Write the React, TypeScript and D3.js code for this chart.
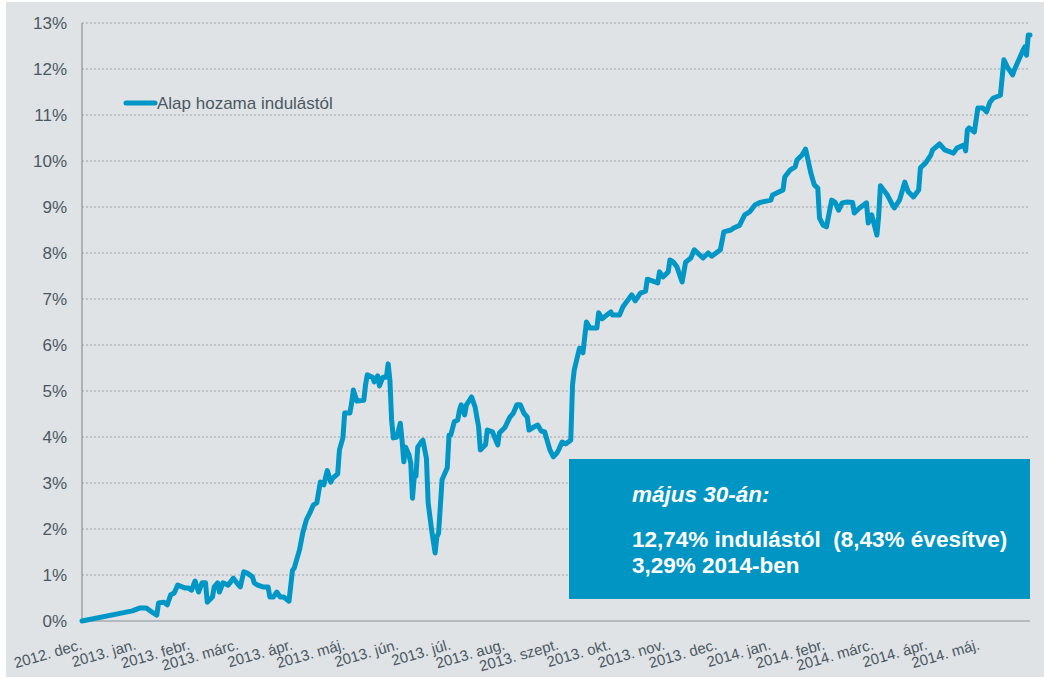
import * as d3 from 'd3'

// days since 2012-12-01 and the cumulative return (%) on that day
const dayOffsets = [
  0, 29, 33, 37, 40, 43, 44, 47, 49, 51, 53, 55, 59, 61, 63, 65, 67, 69, 71, 72,
  75, 76, 78, 79, 81, 84, 87, 89, 91, 93, 95, 98, 99, 101, 104, 107, 108, 110, 112, 114,
  116, 119, 121, 122, 125, 127, 129, 131, 133, 135, 137, 139, 141, 143, 144, 147, 148, 150, 151, 154,
  155, 156, 158, 162, 163, 164, 167, 168, 170, 171, 173, 175, 176, 177, 178, 179, 181, 183, 184, 185,
  186, 188, 189, 190, 191, 192, 193, 195, 196, 198, 199, 201, 203, 204, 205, 207, 210, 211, 212, 214,
  216, 217, 218, 220, 221, 224, 226, 228, 229, 232, 233, 236, 239, 240, 243, 246, 248, 250, 252, 254,
  256, 257, 259, 262, 264, 266, 269, 271, 273, 274, 276, 278, 281, 282, 283, 286, 288, 290, 292, 296,
  297, 299, 304, 305, 309, 311, 316, 318, 321, 324, 325, 331, 332, 334, 337, 338, 340, 342, 345, 347,
  350, 352, 357, 360, 362, 367, 369, 373, 375, 378, 381, 384, 387, 390, 396, 397, 403, 404, 407, 410,
  411, 414, 416, 419, 421, 423, 424, 426, 428, 431, 433, 435, 437, 440, 443, 444, 447, 451, 452, 454,
  457, 458, 459, 463, 466, 467, 470, 473, 475, 478, 481, 482, 485, 488, 489, 493, 496, 501, 503, 507,
  508, 509, 510, 513, 515, 518, 520, 522, 524, 528, 530, 532, 535, 536, 538, 541, 542, 543, 544, 545,
]

const fundReturn = [
  0, 0.22, 0.28, 0.28, 0.2, 0.13, 0.39, 0.41, 0.35, 0.57, 0.61, 0.78, 0.72, 0.72, 0.67, 0.87, 0.63, 0.83, 0.83, 0.41,
  0.52, 0.74, 0.83, 0.63, 0.83, 0.78, 0.93, 0.83, 0.74, 1.07, 1.04, 0.96, 0.83, 0.78, 0.74, 0.74, 0.52, 0.52, 0.63, 0.52,
  0.52, 0.43, 1.1, 1.15, 1.54, 1.93, 2.2, 2.35, 2.52, 2.57, 3.02, 2.96, 3.27, 3.02, 3.1, 3.2, 3.72, 3.98, 4.52, 4.52,
  4.74, 5.02, 4.78, 4.8, 5.13, 5.35, 5.3, 5.2, 5.33, 5.11, 5.3, 5.3, 5.59, 5.24, 4.37, 3.98, 4.0, 4.3, 3.93, 3.46,
  3.78, 3.61, 3.43, 2.67, 3.13, 3.15, 3.78, 3.89, 3.93, 3.54, 2.57, 1.98, 1.48, 1.83, 1.91, 3.07, 3.33, 4.04, 4.04, 4.33,
  4.37, 4.58, 4.7, 4.48, 4.7, 4.87, 4.65, 4.22, 3.72, 3.83, 4.15, 4.11, 3.83, 4.09, 4.2, 4.43, 4.52, 4.7, 4.7, 4.52,
  4.43, 4.15, 4.2, 4.26, 4.13, 4.11, 3.72, 3.57, 3.65, 3.72, 3.89, 3.85, 3.93, 5.13, 5.46, 5.93, 5.83, 6.5, 6.37, 6.37,
  6.7, 6.57, 6.72, 6.65, 6.65, 6.83, 7.09, 6.96, 7.13, 7.17, 7.43, 7.35, 7.59, 7.48, 7.59, 7.85, 7.8, 7.7, 7.37, 7.8,
  7.89, 8.07, 7.89, 8.0, 7.93, 8.07, 8.46, 8.5, 8.55, 8.6, 8.83, 8.9, 9.05, 9.1, 9.15, 9.26, 9.37, 9.65, 9.8, 9.87,
  10.02, 10.13, 10.26, 9.74, 9.48, 9.41, 8.76, 8.61, 8.57, 9.15, 9.1, 8.93, 9.09, 9.11, 9.1, 8.87, 8.98, 9.09, 8.65, 8.83,
  8.39, 8.8, 9.46, 9.26, 9.04, 8.98, 9.15, 9.54, 9.33, 9.22, 9.37, 9.85, 9.96, 10.13, 10.24, 10.37, 10.24, 10.17, 10.28, 10.35,
  10.22, 10.68, 10.72, 10.63, 11.15, 11.15, 11.07, 11.28, 11.37, 11.43, 12.2, 12.04, 11.87, 11.98, 12.15, 12.41, 12.48, 12.3, 12.74, 12.74,
]

const yTicks = [0, 1, 2, 3, 4, 5, 6, 7, 8, 9, 10, 11, 12, 13]

const monthLabels = [
  '2012. dec.', '2013. jan.', '2013. febr.', '2013. márc.', '2013. ápr.', '2013. máj.',
  '2013. jún.', '2013. júl.', '2013. aug.', '2013. szept.', '2013. okt.', '2013. nov.',
  '2013. dec.', '2014. jan.', '2014. febr.', '2014. márc.', '2014. ápr.', '2014. máj.',
]

const legendLabel = 'Alap hozama indulástól'
const noteLines = ['május 30-án:', '12,74% indulástól  (8,43% évesítve)', '3,29% 2014-ben']

const W = 1044
const H = 679
const PLOT = { left: 82, right: 1030, top: 23, bottom: 621 }
const FONT = '"Liberation Sans", Arial, sans-serif'
const TEXT = '#4b5862'
const BLUE = '#0096c6'

export default function App() {
  const start = new Date(2012, 11, 1)
  const x = d3.scaleTime().domain([start, new Date(2014, 4, 30)]).range([PLOT.left, PLOT.right])
  const y = d3.scaleLinear().domain([0, 13]).range([PLOT.bottom, PLOT.top])

  const points = dayOffsets.map((d, i) => ({ date: d3.timeDay.offset(start, d), v: fundReturn[i] }))
  const line = d3
    .line<{ date: Date; v: number }>()
    .x((p) => x(p.date))
    .y((p) => y(p.v))
  const monthTicks = d3.timeMonth.range(start, new Date(2014, 5, 1))

  return (
    <svg width={W} height={H} style={{ position: 'absolute', left: 0, top: 0 }} fontFamily={FONT}>
      <rect x={0} y={0} width={W} height={H} fill="#ffffff" />
      <rect x={6} y={2} width={W - 6} height={H - 4} fill="#dfe3e6" />

      {yTicks.map((t) => (
        <g key={t}>
          {t > 0 && (
            <line
              x1={PLOT.left}
              x2={PLOT.right}
              y1={y(t)}
              y2={y(t)}
              stroke="#9ea3a8"
              strokeWidth={1}
              strokeDasharray="2,2"
            />
          )}
          <text x={67} y={y(t)} dy="0.36em" textAnchor="end" fontSize={17} fill={TEXT}>
            {t}%
          </text>
        </g>
      ))}

      <line x1={PLOT.left} x2={PLOT.left} y1={PLOT.top} y2={PLOT.bottom} stroke="#8c9196" strokeWidth={1.2} />
      <line x1={PLOT.left} x2={PLOT.right} y1={PLOT.bottom} y2={PLOT.bottom} stroke="#8c9196" strokeWidth={1.2} />

      {monthTicks.map((m, i) => (
        <text
          key={i}
          transform={`translate(${x(m) + 1},${649}) rotate(-16)`}
          textAnchor="end"
          fontSize={15}
          fill={TEXT}
        >
          {monthLabels[i]}
        </text>
      ))}

      <path
        d={line(points) || ''}
        fill="none"
        stroke={BLUE}
        strokeWidth={5}
        strokeLinejoin="round"
        strokeLinecap="round"
      />

      <line x1={126} x2={155} y1={103} y2={103} stroke={BLUE} strokeWidth={5} strokeLinecap="round" />
      <text x={157} y={109} fontSize={17} fill={TEXT}>
        {legendLabel}
      </text>

      <rect x={569} y={459} width={PLOT.right - 569} height={140} fill="#0095c3" />
      <text x={632} y={502} fontSize={22.5} fontWeight="bold" fontStyle="italic" fill="#ffffff">
        {noteLines[0]}
      </text>
      <text x={632} y={547} fontSize={22.5} fontWeight="bold" fill="#ffffff" style={{ whiteSpace: 'pre' }}>
        {noteLines[1]}
      </text>
      <text x={632} y={573} fontSize={22.5} fontWeight="bold" fill="#ffffff">
        {noteLines[2]}
      </text>
    </svg>
  )
}
